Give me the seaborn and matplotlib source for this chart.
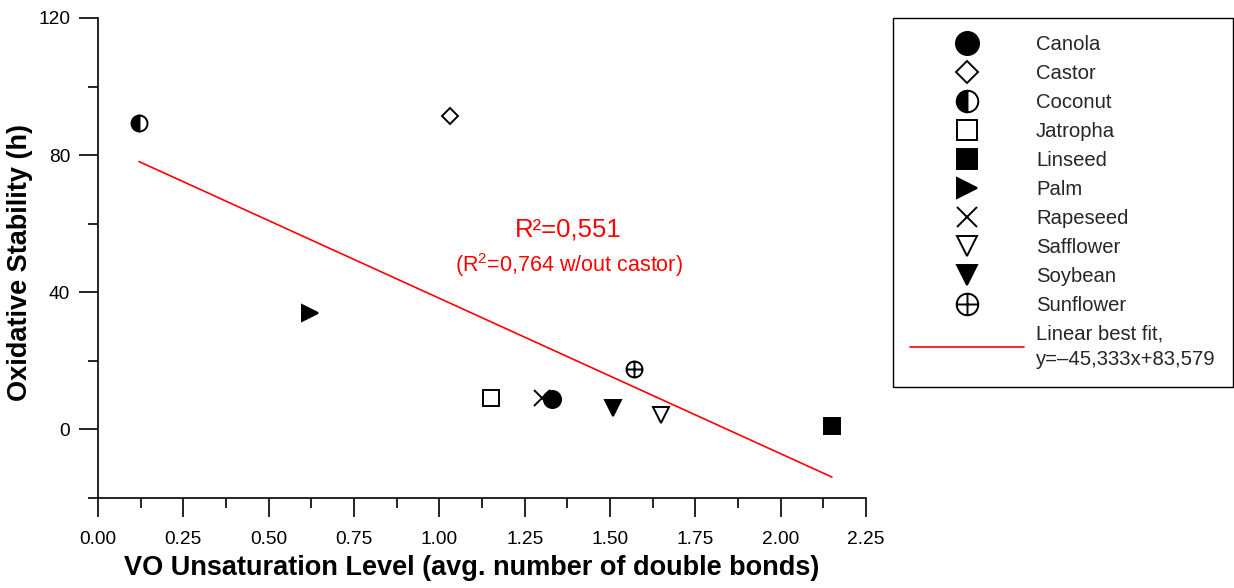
import numpy as np
import matplotlib
matplotlib.use("Agg")
import matplotlib.pyplot as plt
from matplotlib.lines import Line2D
from matplotlib.path import Path
from matplotlib.ticker import MultipleLocator, FormatStrFormatter
import seaborn as sns

# ---- data ----
oils = ["Canola", "Castor", "Coconut", "Jatropha", "Linseed",
        "Palm", "Rapeseed", "Safflower", "Soybean", "Sunflower"]
unsaturation = [1.33, 1.03, 0.12, 1.15, 2.15, 0.62, 1.30, 1.65, 1.51, 1.57]
stability = [9.0, 91.5, 89.3, 9.3, 1.0, 34.0, 9.3, 4.3, 6.3, 17.5]
fit_slope = -45.333
fit_intercept = 83.579
fit_label = "Linear best fit,\ny=–45,333x+83,579"
r2_text = "R²=0,551"
r2_sub_text = "(R$\\mathregular{^2}$=0,764 w/out castor)"
x_ticks = [0.0, 0.25, 0.5, 0.75, 1.0, 1.25, 1.5, 1.75, 2.0, 2.25]
y_ticks = [0, 40, 80, 120]

# ---- styles ----
circle_plus = Path.make_compound_path(
    Path.unit_circle(),
    Path([[-1, 0], [1, 0]], [Path.MOVETO, Path.LINETO]),
    Path([[0, -1], [0, 1]], [Path.MOVETO, Path.LINETO]),
)
styles = {
    "Canola":    dict(marker="o", mfc="black", size=12.3),
    "Castor":    dict(marker="D", mfc="white", size=8.0),
    "Coconut":   dict(marker="o", mfc="black", size=11.5, fill="left"),
    "Jatropha":  dict(marker="s", mfc="white", size=11.0),
    "Linseed":   dict(marker="s", mfc="black", size=11.0),
    "Palm":      dict(marker=">", mfc="black", size=11.0),
    "Rapeseed":  dict(marker="x", mfc="black", size=11.0),
    "Safflower": dict(marker="v", mfc="white", size=11.0),
    "Soybean":   dict(marker="v", mfc="black", size=11.0),
    "Sunflower": dict(marker=circle_plus, mfc="none", size=11.5),
}
leg_scale = 1.35

sns.set_theme(style="ticks")
plt.rcParams["font.family"] = ["Liberation Sans", "DejaVu Sans"]
plt.rcParams["mathtext.fontset"] = "custom"
plt.rcParams["mathtext.rm"] = "Liberation Sans"

fig = plt.figure(figsize=(12.34, 5.88), dpi=100)
ax = fig.add_axes([98 / 1234, 90 / 588, 768 / 1234, 480 / 588])

# fit line
xfit = np.array([min(unsaturation), max(unsaturation)])
yfit = fit_slope * xfit + fit_intercept
sns.lineplot(x=xfit, y=yfit, color="red", linewidth=1.2, ax=ax)

handles = []
for name, xv, yv in zip(oils, unsaturation, stability):
    st = styles[name]
    kw = dict(marker=st["marker"], markersize=st["size"],
              markerfacecolor=st["mfc"], markeredgecolor="black",
              markeredgewidth=1.4, linestyle="", color="black")
    if st.get("fill"):
        kw["fillstyle"] = st["fill"]
        kw["markerfacecoloralt"] = "white"
    sns.lineplot(x=[xv], y=[yv], ax=ax, zorder=3, **kw)
    lkw = dict(kw)
    lkw["markersize"] = st["size"] * leg_scale
    handles.append(Line2D([], [], **lkw))
handles.append(Line2D([], [], color="red", linewidth=1.2))
labels = oils + [fit_label]

ax.set_xlim(0, 2.25)
ax.set_ylim(-20, 120)
ax.xaxis.set_major_locator(plt.FixedLocator(x_ticks))
ax.xaxis.set_minor_locator(MultipleLocator(0.125))
ax.xaxis.set_major_formatter(FormatStrFormatter("%.2f"))
ax.yaxis.set_major_locator(plt.FixedLocator(y_ticks))
ax.yaxis.set_minor_locator(MultipleLocator(20))

for s in ["top", "right"]:
    ax.spines[s].set_visible(False)
for s in ["left", "bottom"]:
    ax.spines[s].set_linewidth(1.2)
    ax.spines[s].set_color("black")
ax.tick_params(which="major", length=14, width=1.2, color="black",
               labelsize=13.8, labelcolor="black")
ax.tick_params(which="minor", length=7.2, width=1.2, color="black")
ax.tick_params(axis="x", which="major", pad=10)
ax.tick_params(axis="y", which="major", pad=6)

ax.set_xlabel("VO Unsaturation Level (avg. number of double bonds)",
              fontsize=19.5, fontweight="bold", color="black")
ax.set_ylabel("Oxidative Stability (h)", fontsize=19.5,
              fontweight="bold", color="black")
ax.xaxis.set_label_coords(0.486, -0.118)
ax.yaxis.set_label_coords(-0.085, 0.49)

ax.text(1.377, 58.3, r2_text, color="red", fontsize=18.5,
        ha="center", va="center")
ax.text(1.38, 48.0, r2_sub_text, color="red", fontsize=15.5,
        ha="center", va="center")

leg = fig.legend(handles, labels, loc="upper right",
                 bbox_to_anchor=(1233 / 1234, 1 - 18 / 588),
                 frameon=True, fancybox=False, framealpha=1,
                 edgecolor="black", fontsize=14.6,
                 handlelength=5.6, handletextpad=0.6,
                 labelspacing=0.49, borderpad=0.85, borderaxespad=0)
leg.get_frame().set_linewidth(1.0)
for t in leg.get_texts():
    t.set_linespacing(1.45)

fig.savefig("out.png", dpi=100)
